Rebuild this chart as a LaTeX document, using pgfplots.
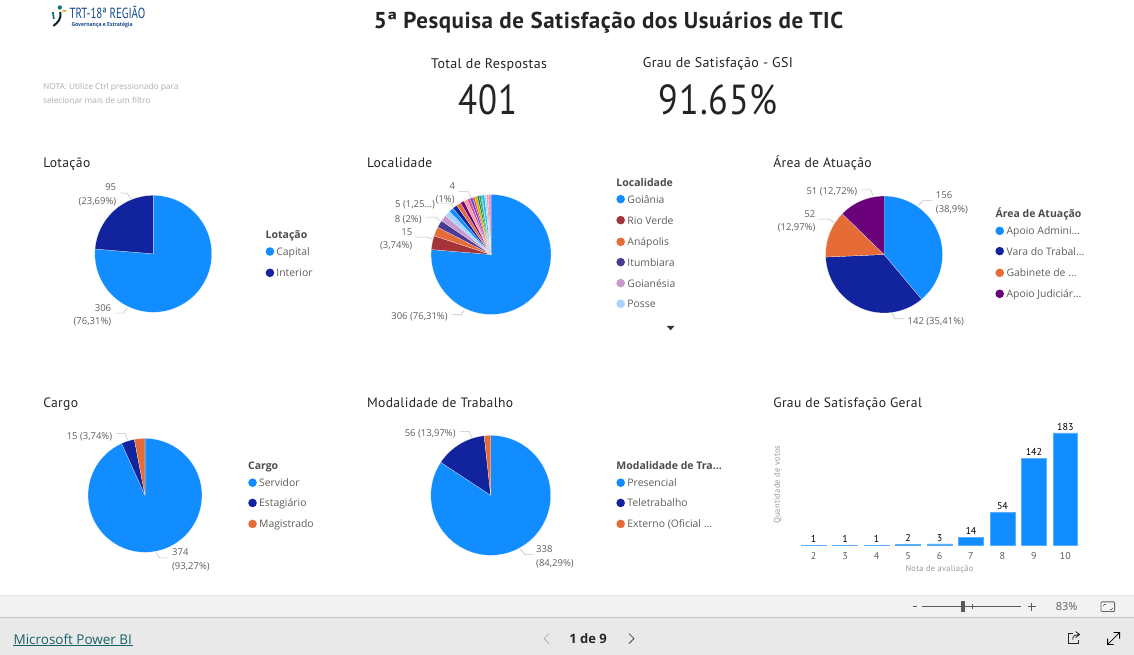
\documentclass[border=0pt]{standalone}
\usepackage{fontspec}
\usepackage{pgfplots}
\pgfplotsset{compat=1.18}
\usepgfplotslibrary{polar}
\setmainfont{Open Sans}
\newfontfamily\din[LetterSpace=2.5]{PT Sans}
\newfontfamily\dinplain{PT Sans}

\definecolor{pbblue}{HTML}{118DFF}
\definecolor{pbnavy}{HTML}{12239E}
\definecolor{pborange}{HTML}{E66C37}
\definecolor{pbpurple}{HTML}{6B007B}
\definecolor{pbred}{HTML}{A4343A}
\definecolor{pbindigo}{HTML}{4A3A94}
\definecolor{pblilac}{HTML}{C798CB}
\definecolor{pbsky}{HTML}{A6D3FF}
\definecolor{pbpink}{HTML}{E044A7}
\definecolor{pbviolet}{HTML}{744EC2}
\definecolor{pbyellow}{HTML}{D9B300}
\definecolor{pbcoral}{HTML}{D64550}
\definecolor{pbteal}{HTML}{197278}
\definecolor{pbgreen}{HTML}{1AAB40}
\definecolor{pbcyan}{HTML}{15C6F4}
\definecolor{pbsalmon}{HTML}{F2A0A0}
\definecolor{pbrose}{HTML}{F08CC8}
\definecolor{labelgray}{HTML}{605E5C}
\definecolor{titlegray}{HTML}{252423}
\definecolor{leader}{HTML}{C4C4C4}

% one pie slice: colour, votes; arc points every 2 degrees
\newcommand{\slice}[2]{%
  \pgfmathsetmacro\ta{90-360/\pietotal*\pierun}%
  \pgfmathsetmacro\tb{\ta-360/\pietotal*#2}%
  \pgfmathtruncatemacro\nst{max(1,ceil((\ta-\tb)/2))}%
  \gdef\pts{(0,0)}%
  \foreach \k in {0,...,\nst}{%
    \pgfmathsetmacro\thk{\ta+(\tb-\ta)/\nst*\k}%
    \xdef\pts{\pts (\thk,1)}%
  }%
  \edef\doit{\noexpand\addplot[fill=#1,draw=white,line width=0.15pt] coordinates {\pts (0,0)};}%
  \doit
  \pgfmathsetmacro\nrun{\pierun+#2}%
  \xdef\pierun{\nrun}%
}
% centre x, centre y, radius, total, slices
\newcommand{\pieaxis}[5]{%
  \def\pietotal{#4}\gdef\pierun{0}%
  \begin{polaraxis}[
    hide axis, scale only axis, clip=false,
    width=#3pt*2, height=#3pt*2,
    at={(#1pt,-#2pt)}, anchor=center,
    xmin=0, xmax=360, ymin=0, ymax=1,
  ]
  #5
  \end{polaraxis}%
}

\tikzset{
  dl/.style={inner sep=0pt, font=\fontsize{9.5}{12}\selectfont, text=labelgray, text height=9pt, text depth=1pt},
  lg/.style={inner sep=0pt, anchor=west, font=\fontsize{10.4}{13}\selectfont, text=labelgray, text height=10pt, text depth=2pt},
  lgt/.style={inner sep=0pt, anchor=west, font=\fontsize{10.5}{13}\selectfont\bfseries, text=labelgray!80!black, text height=10pt, text depth=1pt},
  ct/.style={inner sep=0pt, anchor=west, font=\din\fontsize{13.6}{16}\selectfont, text=titlegray, text height=12pt, text depth=1pt},
  ld/.style={draw=leader, line width=0.6pt},
}

\begin{document}
\begin{tikzpicture}[x=1pt,y=-1pt]
\fill[white] (0,0) rectangle (1134,655);

% header
\node[inner sep=0pt,font=\din\fontsize{23}{26}\selectfont\bfseries,text=titlegray] at (608.5,22.5) {5ª Pesquisa de Satisfação dos Usuários de TIC};
\node[inner sep=0pt,font=\din\fontsize{14}{16}\selectfont,text=titlegray] at (489,64.5) {Total de Respostas};
\node[inner sep=0pt,font=\din\fontsize{14}{16}\selectfont,text=titlegray] at (718,64.5) {Grau de Satisfação - GSI};
\node[inner sep=0pt,font=\din\fontsize{42}{46}\selectfont,text=titlegray] at (488,100) {\scalebox{0.83}[1]{401}};
\node[inner sep=0pt,font=\din\fontsize{42}{46}\selectfont,text=titlegray] at (718.5,100) {\scalebox{0.86}[1]{91.65\%}};
\node[inner sep=0pt,anchor=west,font=\fontsize{8.3}{10}\selectfont,text=black!32] at (42.5,87) {NOTA: Utilize Ctrl pressionado para};
\node[inner sep=0pt,anchor=west,font=\fontsize{8.3}{10}\selectfont,text=black!32] at (42.5,100.5) {selecionar mais de um filtro};

% logo
\fill[pbteal] (59.5,7.5) circle (2.2);
\draw[black!70!pbteal,line width=2pt] (60,12) .. controls (61,19) and (58,22) .. (53,26);
\draw[pbteal,line width=1.8pt] (52.5,12) -- (53.5,19);
\draw[pbyellow,line width=1.5pt] (62,11) -- (66,10.8);
\node[inner sep=0pt,anchor=west,font=\dinplain\fontsize{14}{15}\selectfont,text=pbteal!50!pbnavy] at (69,12.5) {\scalebox{0.78}[1.05]{TRT-18ª REGIÃO}};
\node[inner sep=0pt,anchor=west,font=\fontsize{5.6}{6}\selectfont\bfseries,text=pbteal!50!pbnavy] at (71,25) {\scalebox{0.9}[1]{Governança e Estratégia}};

% Lotacao
\node[ct] at (42.7,161.7) {Lotação};
\pieaxis{153}{254}{58.5}{401}{\slice{pbblue}{306}\slice{pbnavy}{95}}
\draw[ld] (120,193.3) -- (126.7,193.3) -- (131,199.3);
\draw[ld] (115,313.3) -- (123.3,313.3) -- (126.7,308.3);
\node[dl,anchor=east] at (116,187) {95};
\node[dl,anchor=east] at (116,201) {(23,69\%)};
\node[dl,anchor=east] at (111,307.3) {306};
\node[dl,anchor=east] at (111,321) {(76,31\%)};
\node[lgt] at (265.3,234) {Lotação};
\fill[pbblue] (269.7,251.7) circle (4.3); \node[lg] at (276,251.7) {Capital};
\fill[pbnavy] (269.7,273) circle (4.3); \node[lg] at (276,273) {Interior};

% Localidade
\node[ct] at (366.7,161.7) {Localidade};
\pieaxis{491}{254.7}{60}{401}{\slice{pbblue}{306}\slice{pbred}{15}\slice{pborange}{10}\slice{pbindigo}{8}%
  \slice{pblilac}{7}\slice{pbsky}{6}\slice{pbblue}{5}\slice{pbnavy}{5}\slice{pborange}{5}\slice{pbpurple}{4}%
  \slice{pbsalmon}{4}\slice{pbpink}{3}\slice{pbviolet}{3}\slice{pbcoral}{2}\slice{pbyellow}{3}\slice{pbteal}{2}%
  \slice{pbgreen}{2}\slice{pbteal}{1}\slice{pbcyan}{3}\slice{pbsky}{2}\slice{pbsalmon}{2}\slice{pbrose}{3}}
\draw[ld] (458.3,191.7) -- (468.3,191.7) -- (470.7,197.3);
\draw[ld] (436.7,203.3) -- (450,203.3) -- (453.3,207.3);
\draw[ld] (425,217.3) -- (435,217.3) -- (440,220.7);
\draw[ld] (415,237.3) -- (426.7,237.3) -- (432.3,239.3);
\draw[ld] (451.7,315) -- (461,315) -- (464,310.7);
\node[dl] at (452.3,185.3) {4};
\node[dl,anchor=east] at (454.7,198.7) {(1\%)};
\node[dl,anchor=east] at (435,203.3) {5 (1,25...)};
\node[dl,anchor=east] at (421.7,218.7) {8 (2\%)};
\node[dl,anchor=east] at (412.3,231.7) {15};
\node[dl,anchor=east] at (412.3,245) {(3,74\%)};
\node[dl,anchor=east] at (447.7,315.7) {306 (76,31\%)};
\node[lgt] at (616.3,182.3) {Localidade};
\fill[pbblue] (620.7,199.3) circle (4.3); \node[lg] at (627.3,199.3) {Goiânia};
\fill[pbred] (620.7,220.3) circle (4.3); \node[lg] at (627.3,220.3) {Rio Verde};
\fill[pborange] (620.7,242) circle (4.3); \node[lg] at (627.3,242) {Anápolis};
\fill[pbindigo] (620.7,262.3) circle (4.3); \node[lg] at (627.3,262.3) {Itumbiara};
\fill[pblilac] (620.7,283.3) circle (4.3); \node[lg] at (627.3,283.3) {Goianésia};
\fill[pbsky] (620.7,304) circle (4.3); \node[lg] at (627.3,304) {Posse};
\fill[black!80] (666.7,326) -- (674.7,326) -- (670.7,330.5) -- cycle;

% Area de Atuacao
\node[ct] at (773.3,161.7) {Área de Atuação};
\pieaxis{884.3}{254.7}{58.5}{401}{\slice{pbblue}{156}\slice{pbnavy}{142}\slice{pborange}{52}\slice{pbpurple}{51}}
\draw[ld] (919,205) -- (923.3,200.7) -- (932.7,200.7);
\draw[ld] (861,190) -- (871,190) -- (873.3,195.7);
\draw[ld] (818.3,219.3) -- (829.3,219.3) -- (835,223.3);
\draw[ld] (892.3,313.3) -- (895,319) -- (904.3,319);
\node[dl,anchor=west] at (936,194.7) {156};
\node[dl,anchor=west] at (936,209) {(38,9\%)};
\node[dl,anchor=east] at (857.7,190.7) {51 (12,72\%)};
\node[dl,anchor=east] at (815.7,213.7) {52};
\node[dl,anchor=east] at (815.7,227) {(12,97\%)};
\node[dl,anchor=west] at (907.7,320.7) {142 (35,41\%)};
\node[lgt] at (995.7,213.3) {Área de Atuação};
\fill[pbblue] (1000,231) circle (4.3); \node[lg] at (1006.7,231) {Apoio Admini...};
\fill[pbnavy] (1000,251.3) circle (4.3); \node[lg] at (1006.7,251.3) {Vara do Trabal...};
\fill[pborange] (1000,273) circle (4.3); \node[lg] at (1006.7,273) {Gabinete de ...};
\fill[pbpurple] (1000,294) circle (4.3); \node[lg] at (1006.7,294) {Apoio Judiciár...};

% Cargo
\node[ct] at (42.7,402.7) {Cargo};
\pieaxis{144.7}{495.7}{57}{401}{\slice{pbblue}{374}\slice{pbnavy}{15}\slice{pborange}{12}}
\draw[ld] (115.7,434) -- (125,434) -- (127.3,440);
\draw[ld] (156,552.7) -- (159,558.3) -- (168.3,558.3);
\node[dl,anchor=east] at (112,435.7) {15 (3,74\%)};
\node[dl,anchor=west] at (171.7,552.3) {374};
\node[dl,anchor=west] at (171.7,566) {(93,27\%)};
\node[lgt] at (247.7,465.3) {Cargo};
\fill[pbblue] (252.3,483) circle (4.3); \node[lg] at (258.7,483) {Servidor};
\fill[pbnavy] (252.3,503.3) circle (4.3); \node[lg] at (258.7,503.3) {Estagiário};
\fill[pborange] (252.3,524.3) circle (4.3); \node[lg] at (258.7,524.3) {Magistrado};

% Modalidade de Trabalho
\node[ct] at (366.7,402.7) {Modalidade de Trabalho};
\pieaxis{490.7}{495.7}{60}{401}{\slice{pbblue}{338}\slice{pbnavy}{56}\slice{pborange}{7}}
\draw[ld] (459.3,431.7) -- (469,431.7) -- (471.7,437.7);
\draw[ld] (520,549.3) -- (525,555) -- (533.3,555);
\node[dl,anchor=east] at (455.7,433) {56 (13,97\%)};
\node[dl,anchor=west] at (536,548.7) {338};
\node[dl,anchor=west] at (536,563) {(84,29\%)};
\node[lgt] at (616.3,465.3) {Modalidade de Tra...};
\fill[pbblue] (620.7,483) circle (4.3); \node[lg] at (627.3,483) {Presencial};
\fill[pbnavy] (620.7,503.3) circle (4.3); \node[lg] at (627.3,503.3) {Teletrabalho};
\fill[pborange] (620.7,524.3) circle (4.3); \node[lg] at (627.3,524.3) {Externo (Oficial ...};

% Grau de Satisfacao Geral
\node[ct] at (773.3,402.7) {Grau de Satisfação Geral};
\begin{axis}[
  scale only axis,
  width=283.5pt, height=112.7pt,
  at={(798pt,-546pt)}, anchor=south west,
  ybar, bar width=24.7pt, bar shift=0pt,
  xmin=1.5, xmax=10.5, ymin=0, ymax=183,
  clip=false,
  xtick={2,3,4,5,6,7,8,9,10},
  ytick=\empty,
  axis line style={draw=none},
  major tick length=0pt,
  /pgf/number format/assume math mode=true,
  xticklabel style={font=\dinplain\fontsize{10}{11}\selectfont, text=labelgray, yshift=-3.5pt},
  xlabel={Nota de avaliação},
  ylabel={Quantidade de votos},
  xlabel style={at={(axis description cs:0.5,-0.213)}, anchor=center, font=\din\fontsize{8.5}{10}\selectfont, text=black!40},
  ylabel style={at={(axis description cs:-0.0716,0.541)}, anchor=center, font=\din\fontsize{8.5}{10}\selectfont, text=black!40},
  nodes near coords,
  every node near coord/.append style={font=\dinplain\fontsize{10}{11}\selectfont, text=black, yshift=-1pt},
]
\addplot[fill=pbblue, draw=pbblue!70!white, line width=0.5pt] coordinates {
  (2,1) (3,1) (4,1) (5,2) (6,3) (7,14) (8,54) (9,142) (10,183)
};
\end{axis}

% bottom bars
\fill[black!5] (0,596) rectangle (1134,618);
\fill[black!8.5] (0,618) rectangle (1134,655);
\draw[black!10,line width=0.8pt] (0,595.5) -- (1134,595.5);
\draw[black!22,line width=0.8pt] (0,618.3) -- (1134,618.3);
\node[inner sep=0pt,anchor=west,font=\fontsize{13.5}{16}\selectfont,text=pbteal!85!black] (pbi) at (13,639.5) {Microsoft Power BI};
\draw[pbteal!85!black,line width=0.7pt] (13,646) -- (133,646);
\node[inner sep=0pt,font=\fontsize{13}{16}\selectfont\bfseries,text=black!85] at (588,639) {1 de 9};
\draw[black!30,line width=0.8pt] (549,634) -- (544,639) -- (549,644);
\draw[black!70,line width=0.8pt] (629,634) -- (634,639) -- (629,644);
% zoom controls
\draw[black!65,line width=1.2pt] (913,607) -- (917.5,607);
\draw[black!65,line width=0.7pt] (922,607) -- (1021.7,607);
\fill[black!65] (961,601.5) rectangle (965,612.5);
\draw[black!65,line width=0.6pt] (972.3,604.5) -- (972.3,609.5);
\draw[black!65,line width=0.9pt] (1028,607) -- (1036,607) (1032,603) -- (1032,611);
\node[inner sep=0pt,font=\fontsize{11}{13}\selectfont,text=labelgray] at (1067,607) {83\%};
\draw[black!60,line width=0.8pt,rounded corners=1pt] (1101.3,602.3) rectangle (1115,612);
\draw[black!60,line width=0.6pt] (1104,605) -- (1104,606.5) (1104,605) -- (1106,605) (1112.3,609.3) -- (1112.3,608) (1112.3,609.3) -- (1110.5,609.3);
% share and expand icons
\draw[black!85,line width=0.8pt] (1073,634) -- (1069,634) -- (1069,644) -- (1079,644) -- (1079,640);
\draw[black!85,line width=0.8pt] (1073,640) .. controls (1073,636) and (1076,635) .. (1079,635) (1076,632) -- (1080,635) -- (1076,638);
\draw[black,line width=0.8pt] (1108,645) -- (1120,633) (1114,633) -- (1120,633) -- (1120,639) (1108,639) -- (1108,645) -- (1114,645);
\end{tikzpicture}
\end{document}
